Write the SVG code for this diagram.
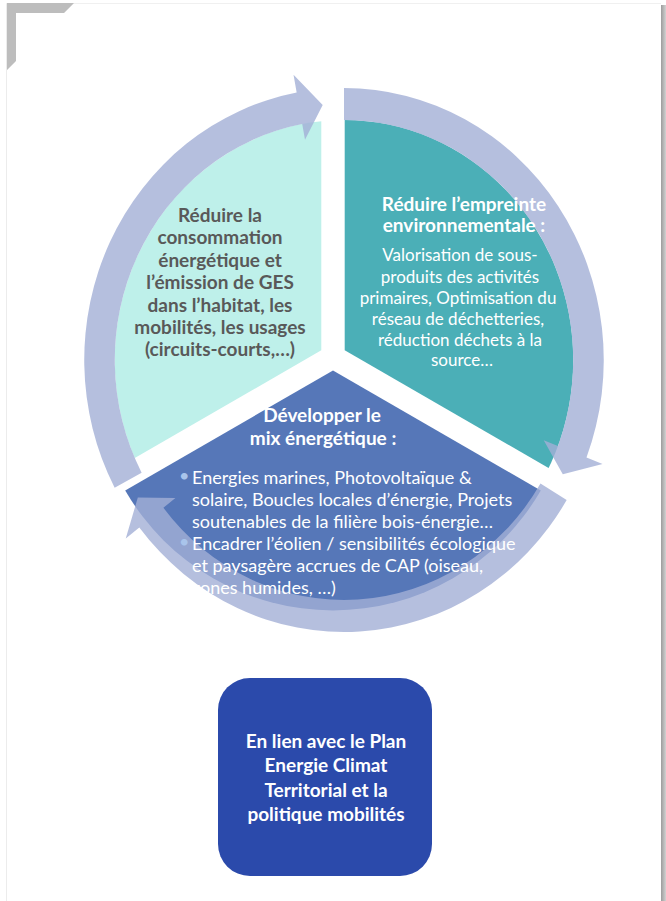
<svg xmlns="http://www.w3.org/2000/svg" width="666" height="901" viewBox="0 0 666 901">
<defs>
<style>
.t{font-family:Lato,"Liberation Sans",sans-serif;font-size:17px;}
.b{font-weight:bold;font-size:19px;}
.bt{font-weight:bold;font-size:19px;}
.r18{font-size:18px;}
.gray{fill:#595959;}
.w{fill:#ffffff;}
.arrow{fill:#A3AFD6;fill-opacity:0.8;}
.bul{fill:#A9C4EB;}
</style>
<clipPath id="inner"><ellipse cx="344" cy="360" rx="229.2" ry="240"/></clipPath>
<clipPath id="outer"><ellipse cx="344" cy="360" rx="259.8" ry="272"/></clipPath>
<linearGradient id="shadow" x1="0" x2="1" y1="0" y2="0"><stop offset="0" stop-color="#9c9c9c"/><stop offset="1" stop-color="#d2d2d2"/></linearGradient>
</defs>
<rect x="0" y="0" width="666" height="901" fill="#ffffff"/>
<g id="frame">
<line x1="6.5" y1="3" x2="6.5" y2="901" stroke="#ececec" stroke-width="1"/>
<line x1="6" y1="3.5" x2="661" y2="3.5" stroke="#f0f0f0" stroke-width="1"/>
<rect x="661" y="5" width="5" height="896" fill="url(#shadow)"/>
<polygon points="7,3 74,3 64,13 16,13 16,61 7,70" fill="#bdbdbd"/>
</g>
<g id="node-consommation">
<path d="M321.3 350.3 L61.5 500.3 A300 300 0 0 1 321.3 50.3 Z" fill="#BEF0EA" clip-path="url(#inner)"/>
</g>
<g id="node-empreinte">
<path d="M344.7 350.3 L344.7 50.3 A300 300 0 0 1 604.5 500.3 Z" fill="#4BAFB7" clip-path="url(#inner)"/>
</g>
<g id="node-mix">
<path d="M333 370.5 L540.8 490.5 A240 240 0 0 1 125.2 490.5 Z" fill="#5677B8" clip-path="url(#outer)"/>
</g>
<g id="connectors" transform="translate(344 360) scale(0.955 1)">
<path class="arrow" d="M-240.16 127.70 A272 272 0 0 1 -49.57 -267.44 L-52.85 -285.14 L-22.31 -255.02 L-40.82 -220.25 L-43.74 -235.98 A240 240 0 0 0 -211.91 112.67 Z"/>
<path class="arrow" d="M0 -272 A272 272 0 0 1 253.93 97.48 L270.74 103.93 L229.10 114.23 L209.12 80.27 L224.06 86.01 A240 240 0 0 0 0 -240 Z"/>
<path class="arrow" d="M233.15 140.09 A272 272 0 0 1 -214.34 167.46 L-228.52 178.54 L-215.91 137.55 L-176.51 137.91 L-189.12 147.76 A240 240 0 0 0 205.72 123.61 Z"/>
</g>
<g id="label-consommation" class="t gray" text-anchor="middle">
<text class="b" x="220" y="222">Réduire la</text>
<text class="b" x="220" y="244.4">consommation</text>
<text class="b" x="220" y="266.8">énergétique et</text>
<text class="b" x="220" y="289.2">l’émission de GES</text>
<text class="b" x="220" y="311.6">dans l’habitat, les</text>
<text class="b" x="220" y="334">mobilités, les usages</text>
<text class="b" x="220" y="356.4">(circuits-courts,…)</text>
</g>
<g id="label-empreinte" class="t w" text-anchor="middle">
<text class="b" x="464" y="211">Réduire l’empreinte</text>
<text class="b" x="464" y="232">environnementale :</text>
<text x="460" y="261">Valorisation de sous-</text>
<text x="460" y="283">produits des activités</text>
<text x="458" y="304">primaires, Optimisation du</text>
<text x="458" y="325">réseau de déchetteries,</text>
<text x="460" y="346">réduction déchets à la</text>
<text x="462" y="366">source…</text>
</g>
<g id="label-mix" class="t w">
<text class="bt" x="322" y="422" text-anchor="middle">Développer le</text>
<text class="bt" x="323" y="445" text-anchor="middle">mix énergétique :</text>
<text class="bul r18" x="179" y="482">•</text>
<text class="r18" x="192" y="484">Energies marines, Photovoltaïque &amp;</text>
<text class="r18" x="192" y="506">solaire, Boucles locales d’énergie, Projets</text>
<text class="r18" x="192" y="528">soutenables de la filière bois-énergie…</text>
<text class="bul r18" x="179" y="548">•</text>
<text class="r18" x="192" y="550">Encadrer l’éolien / sensibilités écologique</text>
<text class="r18" x="192" y="572">et paysagère accrues de CAP (oiseau,</text>
<text class="r18" x="192" y="594">zones humides, …)</text>
</g>
<g id="node-plan">
<rect x="218" y="678" width="214" height="198" rx="32" ry="32" fill="#2B4AAB"/>
<g class="t w" text-anchor="middle">
<text class="b" x="326" y="748">En lien avec le Plan</text>
<text class="b" x="326" y="772">Energie Climat</text>
<text class="b" x="326" y="797">Territorial et la</text>
<text class="b" x="326" y="821">politique mobilités</text>
</g>
</g>
</svg>
